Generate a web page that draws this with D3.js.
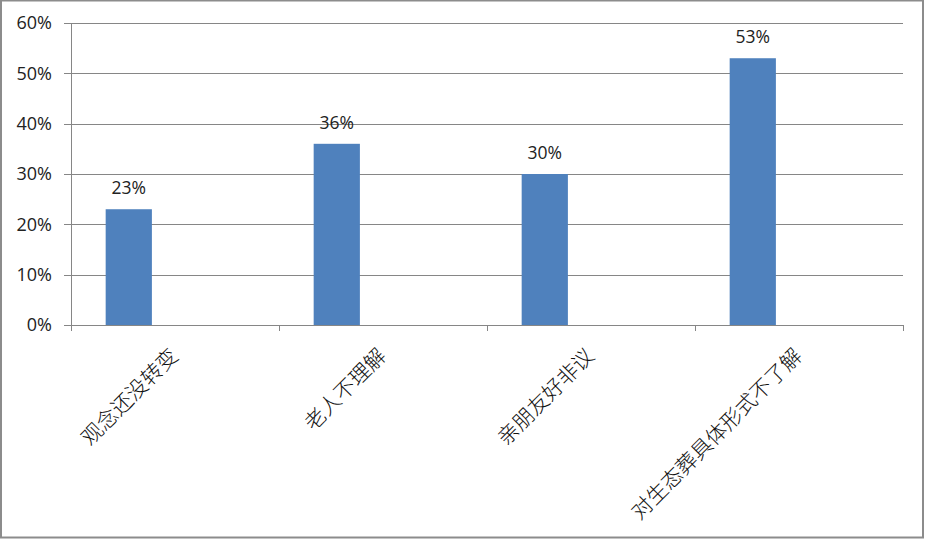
<!DOCTYPE html>
<html>
<head>
<meta charset="utf-8">
<script src="https://cdn.jsdelivr.net/npm/d3@7"></script>
<style>
  body { margin: 0; background: #fff; }
</style>
</head>
<body>
<div id="chart"></div>
<script>
// chart data
var categories = ["观念还没转变", "老人不理解", "亲朋友好非议", "对生态葬具体形式不了解"];
var values = [0.23, 0.36, 0.30, 0.53];
var yTicks = [0, 0.1, 0.2, 0.3, 0.4, 0.5, 0.6];

var width = 925;
var height = 539;
var margin = {top: 23, right: 22, bottom: 214, left: 71};

var svg = d3.select("#chart").append("svg")
    .attr("width", width)
    .attr("height", height);

// outer frame
svg.append("rect")
    .attr("x", 1).attr("y", 0.5)
    .attr("width", width - 3).attr("height", height - 2)
    .attr("fill", "none")
    .attr("stroke", "#8c8c8c")
    .attr("stroke-width", 2);

var x = d3.scaleBand()
    .domain(categories)
    .range([margin.left, width - margin.right])
    .padding(0);

var y = d3.scaleLinear()
    .domain([0, 0.6])
    .range([height - margin.bottom, margin.top]);

// gridlines
svg.append("g")
  .selectAll("line")
  .data(yTicks)
  .enter()
  .append("line")
    .attr("x1", margin.left - 7)
    .attr("x2", width - margin.right)
    .attr("y1", function(d) { return Math.round(y(d)) + 0.5; })
    .attr("y2", function(d) { return Math.round(y(d)) + 0.5; })
    .attr("stroke", "#868686")
    .attr("stroke-width", 1);

// y axis line
svg.append("line")
    .attr("x1", margin.left + 0.5).attr("x2", margin.left + 0.5)
    .attr("y1", margin.top).attr("y2", y(0) + 6)
    .attr("stroke", "#868686");

// y tick labels
svg.append("g")
  .selectAll("text")
  .data(yTicks)
  .enter()
  .append("text")
    .attr("x", margin.left - 19)
    .attr("y", function(d) { return y(d); })
    .attr("dy", "0.36em")
    .attr("text-anchor", "end")
    .style("font-family", "'Open Sans', sans-serif")
    .style("font-size", "18px")
    .style("fill", "#222")
    .text(d3.format(".0%"));

// x category boundary ticks
var bounds = categories.map(function(c) { return x(c); }).concat([width - margin.right]);
svg.append("g")
  .selectAll("line")
  .data(bounds)
  .enter()
  .append("line")
    .attr("x1", function(d) { return Math.round(d) + 0.5; })
    .attr("x2", function(d) { return Math.round(d) + 0.5; })
    .attr("y1", y(0))
    .attr("y2", y(0) + 6)
    .attr("stroke", "#868686");

// bars (first of three cluster slots, gap 150%)
var slot = x.bandwidth() / 4.5;
svg.append("g")
  .selectAll("rect")
  .data(values)
  .enter()
  .append("rect")
    .attr("x", function(d, i) { return x(categories[i]) + slot * 0.75; })
    .attr("y", function(d) { return y(d); })
    .attr("width", slot)
    .attr("height", function(d) { return y(0) - y(d); })
    .attr("fill", "#4f81bd");

// value labels
svg.append("g")
  .selectAll("text")
  .data(values)
  .enter()
  .append("text")
    .attr("x", function(d, i) { return x(categories[i]) + slot * 1.25; })
    .attr("y", function(d) { return y(d) - 15; })
    .attr("text-anchor", "middle")
    .style("font-family", "'Open Sans', sans-serif")
    .style("font-size", "17.5px")
    .style("fill", "#222")
    .text(d3.format(".0%"));

// rotated category labels
svg.append("g")
  .selectAll("text")
  .data(categories)
  .enter()
  .append("text")
    .attr("transform", function(d) {
      return "translate(" + (x(d) + x.bandwidth() / 2 - 6) + "," + (y(0) + 22) + ") rotate(-45)";
    })
    .attr("text-anchor", "end")
    .attr("dy", "0.7em")
    .style("font-family", "'Noto Sans CJK SC', sans-serif")
    .style("font-weight", "300")
    .style("font-size", "21px")
    .style("fill", "#111")
    .text(function(d) { return d; });
</script>
</body>
</html>
